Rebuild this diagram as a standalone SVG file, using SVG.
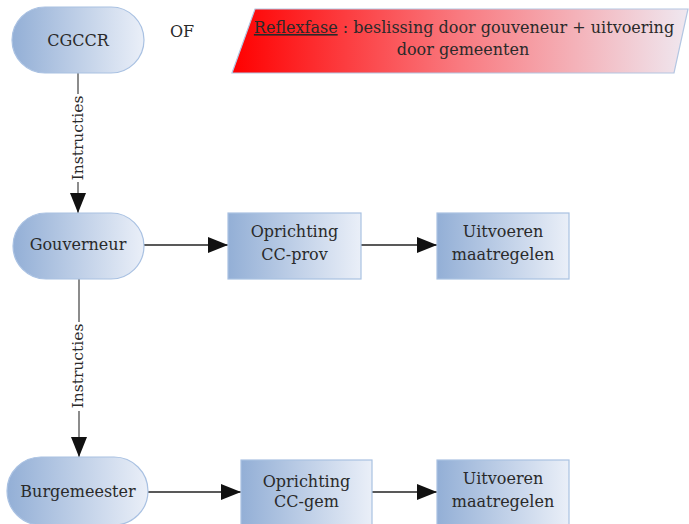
<svg xmlns="http://www.w3.org/2000/svg" width="689" height="524" viewBox="0 0 689 524">
<defs>
<linearGradient id="blue" x1="0" y1="0" x2="1" y2="0">
<stop offset="0" stop-color="#93afd6"/>
<stop offset="1" stop-color="#eaeff8"/>
</linearGradient>
<linearGradient id="red" x1="0" y1="0" x2="1" y2="0">
<stop offset="0" stop-color="#ff0000"/>
<stop offset="0.5" stop-color="#f97a80"/>
<stop offset="1" stop-color="#efe8f0"/>
</linearGradient>
<marker id="arr" markerUnits="userSpaceOnUse" markerWidth="22" markerHeight="18" refX="20" refY="8" orient="auto">
<path d="M0,0 L20,8 L0,16 Z" fill="#111"/>
</marker>
</defs>
<style>
.node{fill:url(#blue);stroke:#a9c1e2;stroke-width:1.2}
.t{font-family:"DejaVu Serif","Liberation Serif",serif;font-size:16px;fill:#2a2a2a;text-anchor:middle}
.lbl{font-family:"DejaVu Serif","Liberation Serif",serif;font-size:15.5px;fill:#2a2a2a;text-anchor:middle}
.h{stroke:#222;stroke-width:1.5;fill:none}
.v{stroke:#666;stroke-width:1.5;fill:none}
</style>
<rect width="689" height="524" fill="#fff"/>
<g id="connectors">
<line class="v" x1="78" y1="73" x2="78" y2="213" marker-end="url(#arr)"/>
<line class="v" x1="79" y1="279" x2="79" y2="457" marker-end="url(#arr)"/>
<line class="h" x1="144" y1="245" x2="228" y2="245" marker-end="url(#arr)"/>
<line class="h" x1="361" y1="245" x2="437" y2="245" marker-end="url(#arr)"/>
<line class="h" x1="148" y1="492" x2="241" y2="492" marker-end="url(#arr)"/>
<line class="h" x1="372" y1="492" x2="437" y2="492" marker-end="url(#arr)"/>
<g id="label-instructies-1">
<rect x="70" y="94" width="15" height="88" fill="#fff"/>
<text class="lbl" transform="translate(83,138) rotate(-90)">Instructies</text>
</g>
<g id="label-instructies-2">
<rect x="69" y="322" width="15" height="89" fill="#fff"/>
<text class="lbl" transform="translate(83,366) rotate(-90)">Instructies</text>
</g>
</g>
<g id="node-cgccr">
<rect class="node" x="12" y="7" width="132" height="66" rx="33"/>
<text class="t" x="78" y="46">CGCCR</text>
</g>
<g id="text-of">
<text class="t" x="182" y="37" font-size="15">OF</text>
</g>
<g id="node-reflexfase">
<polygon points="255,9 688,9 674,73 232,73" fill="url(#red)" stroke="#b3c6e2" stroke-width="1.2"/>
<text class="t" x="464" y="33" font-size="15.5"><tspan text-decoration="underline">Reflexfase</tspan> : beslissing door gouveneur + uitvoering</text>
<text class="t" x="463" y="55" font-size="15.5">door gemeenten</text>
</g>
<g id="node-gouverneur">
<rect class="node" x="13" y="213" width="131" height="66" rx="33"/>
<text class="t" x="78" y="250">Gouverneur</text>
</g>
<g id="node-oprichting-ccprov">
<rect class="node" x="228" y="213" width="133" height="66"/>
<text class="t" x="294.5" y="237">Oprichting</text>
<text class="t" x="294.5" y="260">CC-prov</text>
</g>
<g id="node-uitvoeren-1">
<rect class="node" x="437" y="213" width="132" height="66"/>
<text class="t" x="503" y="237">Uitvoeren</text>
<text class="t" x="503" y="260">maatregelen</text>
</g>
<g id="node-burgemeester">
<rect class="node" x="7" y="457" width="141" height="68" rx="34"/>
<text class="t" x="78" y="497">Burgemeester</text>
</g>
<g id="node-oprichting-ccgem">
<rect class="node" x="241" y="460" width="131" height="70"/>
<text class="t" x="306.5" y="487">Oprichting</text>
<text class="t" x="306.5" y="507">CC-gem</text>
</g>
<g id="node-uitvoeren-2">
<rect class="node" x="437" y="460" width="132" height="70"/>
<text class="t" x="503" y="484">Uitvoeren</text>
<text class="t" x="503" y="507">maatregelen</text>
</g>
</svg>
